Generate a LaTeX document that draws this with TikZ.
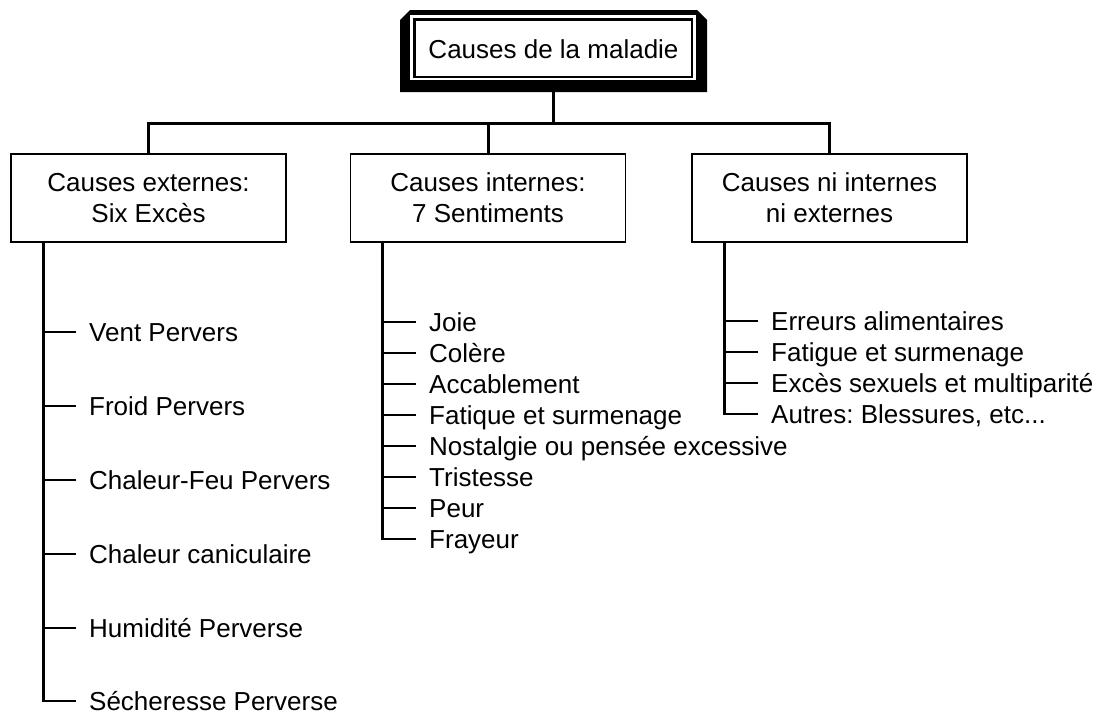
\documentclass[tikz,border=0pt]{standalone}
\usepackage{fontspec}
\setmainfont{Liberation Sans}
\usetikzlibrary{calc}
\frenchspacing
\begin{document}
\begin{tikzpicture}[x=1pt,y=-1pt,
  font=\fontsize{26}{31}\selectfont,
  causebox/.style={draw,line width=1.5pt,minimum width=275pt,minimum height=88pt,align=center,inner sep=0pt},
  item/.style={anchor=west,inner xsep=13pt,inner ysep=0pt,text height=18.5pt,text depth=0pt},
  bus/.style={line width=3pt},
  branch/.style={line width=2.8pt}]
\useasboundingbox (0,0) rectangle (1097,713);

\fill (400,92) -- (400,20) -- (410,10) -- (697,10) -- (707,20) -- (707,92) -- cycle;

\fill[white] (410,15) rectangle (696,80);

\draw[line width=2.5pt] (414.5,19.5) rectangle (692,77);

\node[minimum width=307pt,minimum height=82pt,inner sep=0pt] (root) at (553.5,49) {Causes de la maladie};

\node[causebox] (ext) at (148.5,198) {Causes externes:\\Six Excès};
\node[causebox] (int) at (488,198) {Causes internes:\\7 Sentiments};
\node[causebox] (ni) at (829.5,198) {Causes ni internes\\ni externes};

\draw[bus] (root.south) ++(0,2) -- ++(0,31) coordinate (hub);
\draw[bus] (ext.north) |- (hub) -| (ni.north);
\draw[bus] (hub -| int.north) -- (int.north);

\node[item] (e1) at (76,332) {Vent Pervers};
\node[item] (e2) at (76,406) {Froid Pervers};
\node[item] (e3) at (76,480) {Chaleur-Feu Pervers};
\node[item] (e4) at (76,554) {Chaleur caniculaire};
\node[item] (e5) at (76,628) {Humidité Perverse};
\node[item] (e6) at (76,701) {Sécheresse Perverse};

\draw[branch] ($(ext.south west)+(33,0)$) |- (e6.west);
\draw[branch] (e1.west) -- ++(-32,0);
\draw[branch] (e2.west) -- ++(-32,0);
\draw[branch] (e3.west) -- ++(-32,0);
\draw[branch] (e4.west) -- ++(-32,0);
\draw[branch] (e5.west) -- ++(-32,0);

\node[item] (s1) at (416,322) {Joie};
\node[item] (s2) at (416,353) {Colère};
\node[item] (s3) at (416,384) {Accablement};
\node[item] (s4) at (416,415) {Fatique et surmenage};
\node[item] (s5) at (416,446) {Nostalgie ou pensée excessive};
\node[item] (s6) at (416,477) {Tristesse};
\node[item] (s7) at (416,508) {Peur};
\node[item] (s8) at (416,539) {Frayeur};

\draw[branch] ($(int.south west)+(33,0)$) |- (s8.west);
\draw[branch] (s1.west) -- ++(-32,0);
\draw[branch] (s2.west) -- ++(-32,0);
\draw[branch] (s3.west) -- ++(-32,0);
\draw[branch] (s4.west) -- ++(-32,0);
\draw[branch] (s5.west) -- ++(-32,0);
\draw[branch] (s6.west) -- ++(-32,0);
\draw[branch] (s7.west) -- ++(-32,0);

\node[item] (n1) at (758,321) {Erreurs alimentaires};
\node[item] (n2) at (758,352) {Fatigue et surmenage};
\node[item] (n3) at (758,383) {Excès sexuels et multiparité};
\node[item] (n4) at (758,414) {Autres: Blessures, etc...};

\draw[branch] ($(ni.south west)+(33,0)$) |- (n4.west);
\draw[branch] (n1.west) -- ++(-32,0);
\draw[branch] (n2.west) -- ++(-32,0);
\draw[branch] (n3.west) -- ++(-32,0);
\end{tikzpicture}
\end{document}
